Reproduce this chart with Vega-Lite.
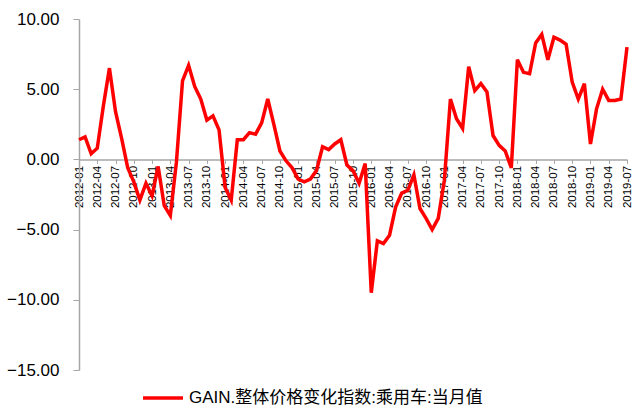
{
  "$schema": "https://vega.github.io/schema/vega-lite/v6.json",
  "width": 548,
  "height": 351,
  "autosize": {"type": "none"},
  "padding": {"left": 79, "top": 19, "right": 8, "bottom": 36},
  "background": "white",
  "config": {"view": {"stroke": null}},
  "data": {"values": [
    {"m": "2012-01", "v": 1.4}, {"m": "2012-02", "v": 1.6}, {"m": "2012-03", "v": 0.4}, {"m": "2012-04", "v": 0.8},
    {"m": "2012-05", "v": 3.8}, {"m": "2012-06", "v": 6.5}, {"m": "2012-07", "v": 3.4}, {"m": "2012-08", "v": 1.5},
    {"m": "2012-09", "v": -0.6}, {"m": "2012-10", "v": -1.6}, {"m": "2012-11", "v": -2.9}, {"m": "2012-12", "v": -1.7},
    {"m": "2013-01", "v": -2.6}, {"m": "2013-02", "v": -0.5}, {"m": "2013-03", "v": -3.3}, {"m": "2013-04", "v": -4.0},
    {"m": "2013-05", "v": -0.2}, {"m": "2013-06", "v": 5.6}, {"m": "2013-07", "v": 6.7}, {"m": "2013-08", "v": 5.2},
    {"m": "2013-09", "v": 4.3}, {"m": "2013-10", "v": 2.8}, {"m": "2013-11", "v": 3.1}, {"m": "2013-12", "v": 2.1},
    {"m": "2014-01", "v": -2.0}, {"m": "2014-02", "v": -2.9}, {"m": "2014-03", "v": 1.4}, {"m": "2014-04", "v": 1.4},
    {"m": "2014-05", "v": 1.9}, {"m": "2014-06", "v": 1.8}, {"m": "2014-07", "v": 2.6}, {"m": "2014-08", "v": 4.3},
    {"m": "2014-09", "v": 2.5}, {"m": "2014-10", "v": 0.6}, {"m": "2014-11", "v": -0.1}, {"m": "2014-12", "v": -0.6},
    {"m": "2015-01", "v": -1.4}, {"m": "2015-02", "v": -1.6}, {"m": "2015-03", "v": -1.4}, {"m": "2015-04", "v": -0.8},
    {"m": "2015-05", "v": 0.9}, {"m": "2015-06", "v": 0.7}, {"m": "2015-07", "v": 1.1}, {"m": "2015-08", "v": 1.4},
    {"m": "2015-09", "v": -0.4}, {"m": "2015-10", "v": -0.8}, {"m": "2015-11", "v": -1.7}, {"m": "2015-12", "v": -0.3},
    {"m": "2016-01", "v": -9.5}, {"m": "2016-02", "v": -5.8}, {"m": "2016-03", "v": -6.0}, {"m": "2016-04", "v": -5.4},
    {"m": "2016-05", "v": -3.4}, {"m": "2016-06", "v": -2.4}, {"m": "2016-07", "v": -2.2}, {"m": "2016-08", "v": -1.1},
    {"m": "2016-09", "v": -3.5}, {"m": "2016-10", "v": -4.2}, {"m": "2016-11", "v": -5.0}, {"m": "2016-12", "v": -4.2},
    {"m": "2017-01", "v": -1.5}, {"m": "2017-02", "v": 4.3}, {"m": "2017-03", "v": 2.9}, {"m": "2017-04", "v": 2.2},
    {"m": "2017-05", "v": 6.6}, {"m": "2017-06", "v": 4.9}, {"m": "2017-07", "v": 5.4}, {"m": "2017-08", "v": 4.8},
    {"m": "2017-09", "v": 1.7}, {"m": "2017-10", "v": 1.0}, {"m": "2017-11", "v": 0.6}, {"m": "2017-12", "v": -0.6},
    {"m": "2018-01", "v": 7.1}, {"m": "2018-02", "v": 6.2}, {"m": "2018-03", "v": 6.1}, {"m": "2018-04", "v": 8.3},
    {"m": "2018-05", "v": 8.9}, {"m": "2018-06", "v": 7.1}, {"m": "2018-07", "v": 8.7}, {"m": "2018-08", "v": 8.5},
    {"m": "2018-09", "v": 8.2}, {"m": "2018-10", "v": 5.5}, {"m": "2018-11", "v": 4.3}, {"m": "2018-12", "v": 5.4},
    {"m": "2019-01", "v": 1.1}, {"m": "2019-02", "v": 3.6}, {"m": "2019-03", "v": 5.0}, {"m": "2019-04", "v": 4.2},
    {"m": "2019-05", "v": 4.2}, {"m": "2019-06", "v": 4.3}, {"m": "2019-07", "v": 8.0}
  ]},
  "mark": {"type": "line", "strokeWidth": 3.5, "strokeJoin": "miter", "interpolate": "linear"},
  "encoding": {
    "x": {
      "field": "m", "type": "ordinal", "sort": null,
      "scale": {"type": "point", "padding": 0},
      "axis": {
        "title": null,
        "offset": -210.6,
        "values": ["2012-01","2012-04","2012-07","2012-10","2013-01","2013-04","2013-07","2013-10","2014-01","2014-04","2014-07","2014-10","2015-01","2015-04","2015-07","2015-10","2016-01","2016-04","2016-07","2016-10","2017-01","2017-04","2017-07","2017-10","2018-01","2018-04","2018-07","2018-10","2019-01","2019-04","2019-07"],
        "labelAngle": -90,
        "labelFont": "Liberation Sans",
        "labelFontSize": 11.5,
        "labelColor": "#000000",
        "labelPadding": 2,
        "tickSize": 4,
        "tickColor": "#A6A6A6",
        "domainColor": "#A6A6A6",
        "domainWidth": 1.5,
        "grid": false,
        "labelOverlap": false
      }
    },
    "y": {
      "field": "v", "type": "quantitative",
      "scale": {"domain": [-15, 10], "nice": false, "zero": false},
      "axis": {
        "title": null,
        "values": [-15, -10, -5, 0, 5, 10],
        "format": ".2f",
        "labelFont": "Liberation Sans",
        "labelFontSize": 17,
        "labelColor": "#000000",
        "labelPadding": 14,
        "tickSize": 6,
        "tickColor": "#A6A6A6",
        "domainColor": "#A6A6A6",
        "domainWidth": 1.5,
        "grid": false
      }
    },
    "color": {
      "datum": "GAIN.整体价格变化指数:乘用车:当月值",
      "scale": {"range": ["#FF0000"]},
      "legend": {
        "title": null,
        "orient": "none",
        "legendX": 62,
        "legendY": 357,
        "padding": 0,
        "symbolType": "stroke",
        "symbolSize": 1600,
        "symbolStrokeWidth": 3.5,
        "symbolStrokeColor": "#FF0000",
        "symbolOpacity": 1,
        "labelFont": "'Liberation Sans', 'Noto Sans CJK SC'",
        "labelFontSize": 17,
        "labelColor": "#000000",
        "labelOffset": 4,
        "labelLimit": 0
      }
    }
  }
}
